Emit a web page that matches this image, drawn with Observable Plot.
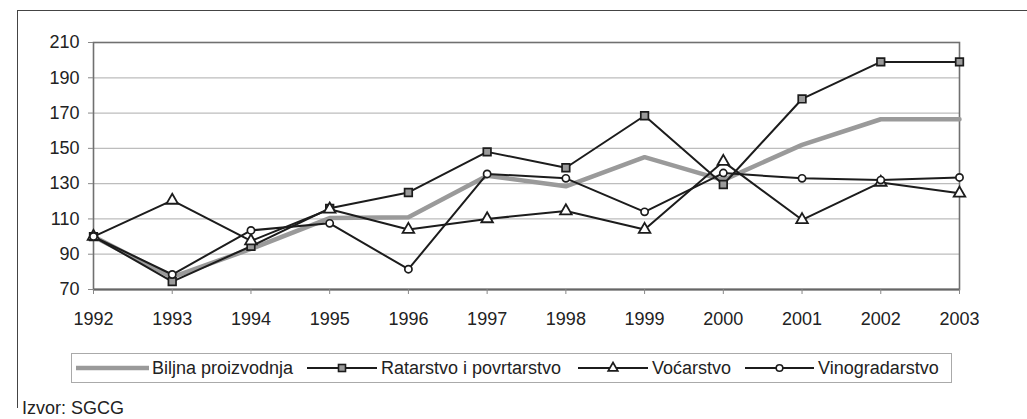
<!DOCTYPE html>
<html>
<head>
<meta charset="utf-8">
<script src="https://cdn.jsdelivr.net/npm/d3@7"></script>
<script src="https://cdn.jsdelivr.net/npm/@observablehq/plot@0.6"></script>
<style>
  html, body { margin: 0; padding: 0; background: #fff; }
  #wrap { position: relative; width: 1027px; height: 419px; overflow: hidden; font-family: "Liberation Sans", Arial, sans-serif; }
  #frame { position: absolute; left: 17px; top: 10px; width: 1030px; height: 397px; border-left: 1.5px solid #444; border-top: 1.5px solid #444; }
  #chart { position: absolute; left: 0; top: 0; }
  #legend { position: absolute; left: 71px; top: 353px; }
  #source { position: absolute; left: 22px; top: 399px; font-size: 18px; line-height: 19px; color: #222; white-space: nowrap; }
</style>
</head>
<body>
<div id="wrap">
  <div id="frame"></div>
  <div id="chart"></div>
  <div id="legend"></div>
  <div id="source">Izvor: SGCG</div>
</div>
<script>
const years = [1992, 1993, 1994, 1995, 1996, 1997, 1998, 1999, 2000, 2001, 2002, 2003];
const biljna = [100, 77, 93, 110.5, 111, 134.5, 128.5, 145, 132, 152, 166.5, 166.5];
const ratarstvo = [100, 74.5, 94.5, 116, 125, 148, 139, 168.5, 129.5, 178, 199, 199];
const vocarstvo = [100, 120.5, 97.5, 115.5, 104, 110, 114.5, 104, 142.5, 109.5, 130.7, 124.5];
const vinogradarstvo = [100, 78.5, 103.5, 107.5, 81.5, 135.5, 133, 114, 136, 133, 132, 133.5];
const seriesNames = ["Biljna proizvodnja", "Ratarstvo i povrtarstvo", "Voćarstvo", "Vinogradarstvo"];
const yTicks = [70, 90, 110, 130, 150, 170, 190, 210];

const toRows = (vals, name) => years.map((y, i) => ({year: y, value: vals[i], series: name}));
const rowsB = toRows(biljna, seriesNames[0]);
const rowsR = toRows(ratarstvo, seriesNames[1]);
const rowsV = toRows(vocarstvo, seriesNames[2]);
const rowsG = toRows(vinogradarstvo, seriesNames[3]);

const BLACK = "#1c1c1c";
const GRAY = "#9a9a9a";
const LW = 2;

const chart = Plot.plot({
  width: 1027,
  height: 340,
  marginLeft: 93,
  marginRight: 68,
  marginTop: 42,
  marginBottom: 51,
  style: {fontFamily: "'Liberation Sans', Arial, sans-serif", fontSize: "18px", color: "#222", background: "transparent"},
  x: {domain: [1992, 2003], ticks: years, tickFormat: d => String(d)},
  y: {domain: [70, 210], ticks: yTicks},
  marks: [
    Plot.ruleY(yTicks.filter(d => d > 70 && d < 210), {stroke: "#bdbdbd", strokeWidth: 1.3}),
    Plot.frame({stroke: "#707070", strokeWidth: 1.6}),
    Plot.ruleY([70], {stroke: "#666", strokeWidth: 2}),
    Plot.axisY({ticks: yTicks, tickSize: 5, tickPadding: 9, stroke: "#888", fill: "#222", label: null}),
    Plot.axisX({ticks: years, tickSize: 5, tickPadding: 18, stroke: "#888", fill: "#222", label: null, tickFormat: d => String(d)}),
    Plot.line(rowsB, {x: "year", y: "value", stroke: GRAY, strokeWidth: 4.5}),
    Plot.line(rowsR, {x: "year", y: "value", stroke: BLACK, strokeWidth: LW}),
    Plot.line(rowsV, {x: "year", y: "value", stroke: BLACK, strokeWidth: LW}),
    Plot.line(rowsG, {x: "year", y: "value", stroke: BLACK, strokeWidth: LW}),
    Plot.dot(rowsR, {x: "year", y: "value", symbol: "square", r: 4.3, fill: GRAY, stroke: BLACK, strokeWidth: 1.7}),
    Plot.dot(rowsV, {x: "year", y: "value", symbol: "triangle", r: 4.3, fill: "white", stroke: BLACK, strokeWidth: 1.8}),
    Plot.dot(rowsG, {x: "year", y: "value", symbol: "circle", r: 3.6, fill: "white", stroke: BLACK, strokeWidth: 1.7})
  ]
});
document.getElementById("chart").appendChild(chart);

// Legend
const L = d3.select("#legend").append("svg")
  .attr("width", 882).attr("height", 31)
  .style("font-family", "'Liberation Sans', Arial, sans-serif")
  .style("font-size", "18px");
L.append("rect").attr("x", 0.5).attr("y", 0.5).attr("width", 880).attr("height", 29)
  .attr("fill", "white").attr("stroke", "#aaa");
const ox = 71, cy = 15;
const items = [
  {name: seriesNames[0], x0: 76, x1: 149, tx: 152, sym: null},
  {name: seriesNames[1], x0: 307, x1: 377, tx: 381, sym: "square"},
  {name: seriesNames[2], x0: 578, x1: 648, tx: 652, sym: "triangle"},
  {name: seriesNames[3], x0: 745, x1: 814, tx: 818, sym: "circle"}
];
items.forEach(it => {
  const g = L.append("g");
  g.append("line").attr("x1", it.x0 - ox).attr("x2", it.x1 - ox).attr("y1", cy).attr("y2", cy)
    .attr("stroke", it.sym ? BLACK : GRAY).attr("stroke-width", it.sym ? LW : 4.5);
  const mx = (it.x0 + it.x1) / 2 - ox;
  if (it.sym === "square") {
    g.append("rect").attr("x", mx - 3.5).attr("y", cy - 3.5).attr("width", 7).attr("height", 7)
      .attr("fill", GRAY).attr("stroke", BLACK).attr("stroke-width", 1.6);
  } else if (it.sym === "triangle") {
    g.append("path").attr("d", d3.symbol(d3.symbolTriangle, 40)()).attr("transform", `translate(${mx},${cy})`)
      .attr("fill", "white").attr("stroke", BLACK).attr("stroke-width", 1.7);
  } else if (it.sym === "circle") {
    g.append("circle").attr("cx", mx).attr("cy", cy).attr("r", 3.3)
      .attr("fill", "white").attr("stroke", BLACK).attr("stroke-width", 1.6);
  }
  g.append("text").attr("x", it.tx - ox).attr("y", cy).attr("dy", "0.35em").attr("fill", "#222").text(it.name);
});
</script>
</body>
</html>
